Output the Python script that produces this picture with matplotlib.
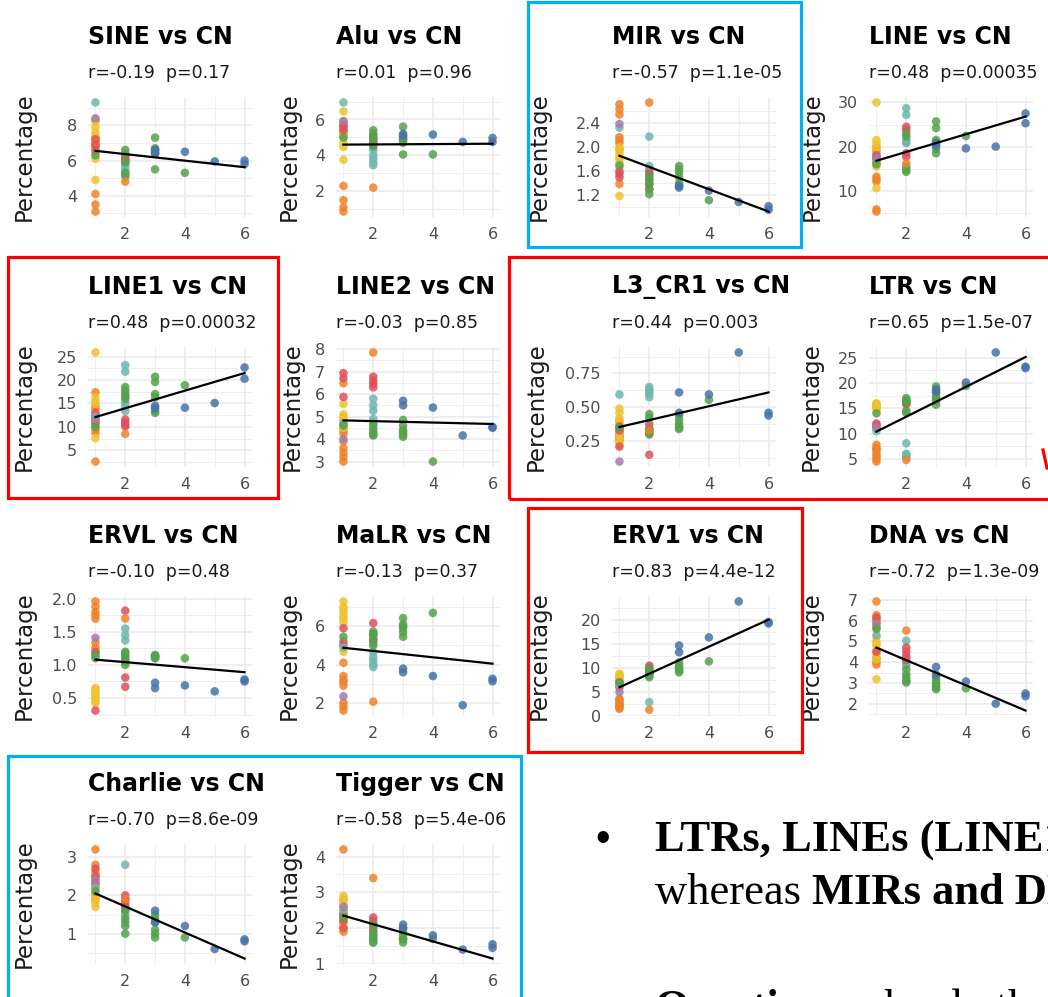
import numpy as np
import matplotlib
matplotlib.use("Agg")
import matplotlib.pyplot as plt
from matplotlib.patches import Rectangle
from matplotlib.lines import Line2D
from matplotlib.transforms import Bbox, TransformedBbox

# samples shared by every panel: copy number and colour group
cn = [1] * 22 + [2] * 15 + [3] * 8 + [4] * 2 + [5] + [6] * 2
grp = list("OOOOOOOOYYYYYYYYRRRTPG" + "TTTTTRRRRGGGGGO" + "GGGGGGBB" + "GB" + "B" + "BB")

group_colors = {"O": "#F0832A", "Y": "#EEC231", "R": "#E0505A", "T": "#6FB7B0",
                "P": "#A57CAD", "G": "#54A24B", "B": "#4673A8"}

titles = ["SINE", "Alu", "MIR", "LINE", "LINE1", "LINE2", "L3_CR1", "LTR",
          "ERVL", "MaLR", "ERV1", "DNA", "Charlie", "Tigger"]
stats = ["r=-0.19  p=0.17", "r=0.01  p=0.96", "r=-0.57  p=1.1e-05", "r=0.48  p=0.00035",
         "r=0.48  p=0.00032", "r=-0.03  p=0.85", "r=0.44  p=0.003", "r=0.65  p=1.5e-07",
         "r=-0.10  p=0.48", "r=-0.13  p=0.37", "r=0.83  p=4.4e-12", "r=-0.72  p=1.3e-09",
         "r=-0.70  p=8.6e-09", "r=-0.58  p=5.4e-06"]

sine = [8.3, 7.1, 6.8, 4.1, 3.5, 3.1, 6.9, 7.3, 8.2, 7.9, 7.6, 7.4, 6.5, 6.1, 4.9, 7.0,
        6.9, 6.6, 7.2, 9.3, 8.4, 6.3,
        5.6, 5.4, 5.8, 6.0, 5.2, 6.2, 6.3, 6.0, 6.1, 6.6, 6.4, 5.9, 5.3, 5.1, 4.8,
        7.3, 6.7, 6.6, 5.5, 6.5, 6.4, 6.6, 6.4, 5.3, 6.5, 5.95, 6.0, 5.8]
alu = [5.9, 5.5, 5.1, 2.3, 1.5, 1.1, 0.87, 5.3, 6.45, 5.8, 5.6, 5.0, 4.7, 4.47, 3.76, 5.2,
       5.7, 5.4, 5.6, 6.95, 5.9, 5.0,
       4.0, 3.8, 3.6, 3.45, 4.3, 4.9, 4.7, 4.6, 5.0, 5.4, 5.2, 4.8, 4.5, 5.1, 2.2,
       5.6, 4.85, 4.05, 4.7, 5.0, 4.9, 5.2, 5.1, 4.05, 5.16, 4.75, 4.97, 4.75]
mir = [2.72, 2.64, 2.17, 2.07, 1.97, 1.39, 2.55, 2.12, 2.0, 1.9, 1.82, 1.75, 1.67, 1.19, 1.85, 1.95,
       1.56, 1.5, 1.6, 2.33, 2.39, 1.7,
       2.18, 1.69, 1.65, 1.6, 1.55, 1.58, 1.48, 1.38, 1.31, 1.53, 1.45, 1.4, 1.3, 1.22, 2.75,
       1.69, 1.63, 1.58, 1.5, 1.4, 1.36, 1.36, 1.33, 1.12, 1.28, 1.09, 1.02, 0.96]
line = [20.0, 19.2, 13.2, 12.1, 5.8, 5.3, 18.5, 12.6, 30.0, 21.5, 20.8, 17.0, 16.2, 15.5, 10.6, 19.8,
        17.7, 18.0, 17.3, 16.5, 17.5, 16.0,
        28.7, 27.2, 21.5, 20.8, 21.0, 24.5, 23.8, 18.5, 17.7, 23.0, 22.3, 15.5, 14.8, 14.3, 16.2,
        25.7, 24.2, 21.5, 21.0, 18.5, 19.5, 20.8, 20.2, 22.4, 19.6, 20.0, 27.5, 25.3]
line1 = [17.4, 13.8, 12.0, 9.5, 8.7, 2.6, 14.5, 11.0, 25.9, 16.3, 15.5, 14.9, 12.7, 10.5, 7.6, 11.8,
         12.4, 10.8, 13.0, 12.2, 11.5, 10.0,
         23.2, 21.8, 15.2, 14.4, 13.4, 11.6, 11.0, 10.5, 10.1, 18.5, 17.8, 17.0, 16.5, 16.0, 8.5,
         20.7, 19.6, 17.0, 16.3, 13.4, 13.0, 14.5, 14.0, 18.9, 14.1, 15.1, 22.7, 20.3]
line2 = [6.48, 4.24, 3.9, 3.6, 3.4, 3.0, 4.4, 3.2, 5.56, 5.1, 4.9, 4.75, 4.6, 4.5, 4.8, 5.0,
         6.93, 6.7, 5.87, 4.7, 4.0, 4.6,
         5.79, 5.5, 5.26, 4.9, 4.73, 6.77, 6.6, 6.45, 6.3, 4.62, 4.45, 4.3, 4.2, 4.16, 7.85,
         4.85, 4.6, 4.4, 4.3, 4.2, 4.1, 5.7, 5.5, 3.0, 5.4, 4.16, 4.54, 4.5]
l3_cr1 = [0.30, 0.28, 0.32, 0.35, 0.27, 0.25, 0.40, 0.30, 0.49, 0.46, 0.42, 0.38, 0.34, 0.30, 0.26, 0.225,
          0.21, 0.33, 0.36, 0.595, 0.10, 0.35,
          0.65, 0.62, 0.60, 0.575, 0.63, 0.375, 0.34, 0.31, 0.15, 0.45, 0.42, 0.34, 0.32, 0.30, 0.33,
          0.44, 0.41, 0.38, 0.36, 0.34, 0.35, 0.61, 0.46, 0.555, 0.595, 0.905, 0.46, 0.44]
ltr = [7.8, 7.2, 6.6, 6.0, 5.5, 5.0, 4.5, 7.0, 16.0, 15.6, 15.2, 14.9, 14.7, 11.0, 15.8, 15.4,
       11.7, 11.5, 12.0, 10.5, 11.2, 14.0,
       8.1, 5.5, 5.9, 5.3, 6.0, 16.1, 16.3, 15.8, 16.0, 17.0, 16.6, 14.1, 14.5, 16.2, 4.8,
       19.3, 18.0, 17.3, 16.5, 15.7, 16.9, 18.75, 18.3, 19.4, 20.1, 26.0, 23.2, 22.9]
ervl = [1.96, 1.88, 1.80, 1.70, 1.34, 1.26, 1.18, 1.75, 0.65, 0.60, 0.55, 0.50, 0.45, 0.42, 0.62, 0.52,
        0.31, 1.20, 1.10, 1.11, 1.41, 1.15,
        1.55, 1.37, 1.09, 1.20, 1.45, 1.82, 0.81, 0.67, 1.05, 1.19, 1.15, 1.00, 1.05, 1.12, 1.70,
        1.15, 1.11, 1.13, 1.12, 1.10, 1.14, 0.73, 0.65, 1.10, 0.69, 0.60, 0.78, 0.75]
malr = [4.1, 3.4, 3.1, 2.9, 2.0, 1.8, 1.6, 3.2, 7.3, 7.0, 6.7, 6.5, 6.2, 4.67, 6.9, 6.4,
        5.9, 5.0, 5.2, 4.9, 2.34, 5.46,
        4.67, 4.4, 4.2, 4.0, 3.87, 6.17, 5.29, 5.15, 5.6, 5.73, 5.5, 5.0, 5.3, 5.6, 2.06,
        6.43, 6.1, 5.9, 5.7, 5.46, 6.0, 3.79, 3.6, 6.7, 3.4, 1.88, 3.26, 3.13]
erv1 = [3.6, 3.0, 2.6, 2.2, 1.8, 1.5, 3.3, 2.0, 8.8, 8.3, 7.9, 7.5, 7.0, 7.2, 8.0, 8.5,
        6.3, 6.0, 7.0, 6.5, 5.0, 7.0,
        2.9, 8.5, 8.8, 9.0, 8.3, 10.5, 10.0, 9.5, 9.0, 9.8, 9.2, 8.6, 8.1, 9.0, 1.3,
        11.2, 10.5, 10.0, 9.5, 9.1, 9.8, 14.7, 13.3, 11.4, 16.4, 23.9, 19.6, 19.3]
dna = [6.92, 6.26, 6.0, 3.88, 4.2, 5.9, 4.0, 6.1, 5.2, 5.0, 4.8, 4.6, 4.4, 4.13, 3.18, 4.9,
       6.15, 5.7, 4.5, 5.3, 5.85, 5.6,
       5.03, 3.84, 4.0, 4.2, 3.9, 4.7, 4.3, 4.1, 4.5, 3.64, 3.4, 3.25, 3.1, 3.02, 5.52,
       3.15, 3.0, 2.9, 2.8, 2.7, 3.3, 3.77, 3.4, 2.74, 3.07, 2.0, 2.49, 2.36]
charlie = [3.2, 2.8, 2.6, 2.4, 2.2, 2.0, 1.9, 2.5, 2.5, 2.3, 2.2, 2.1, 2.0, 1.9, 1.8, 1.7,
           2.7, 2.5, 2.3, 2.2, 2.4, 2.1,
           2.8, 1.9, 1.7, 1.6, 1.5, 2.0, 1.9, 1.8, 1.7, 1.6, 1.4, 1.3, 1.2, 1.0, 1.9,
           1.5, 1.4, 1.3, 1.1, 1.0, 0.9, 1.6, 1.3, 0.9, 1.2, 0.6, 0.85, 0.8]
tigger = [4.2, 2.6, 2.4, 2.2, 2.0, 1.9, 2.8, 2.3, 2.9, 2.8, 2.7, 2.6, 2.5, 2.3, 2.1, 2.0,
          2.4, 2.2, 2.0, 2.5, 2.6, 2.3,
          2.1, 1.9, 1.8, 1.7, 1.6, 2.3, 2.2, 2.1, 2.0, 2.1, 1.9, 1.8, 1.7, 1.6, 3.4,
          2.0, 1.9, 1.8, 1.7, 1.6, 1.7, 2.1, 2.0, 1.7, 1.8, 1.4, 1.55, 1.45]
values = [sine, alu, mir, line, line1, line2, l3_cr1, ltr, ervl, malr, erv1, dna, charlie, tigger]

# fitted line read at CN=1 and CN=6
fits = [(6.55, 5.62), (4.60, 4.65), (1.86, 0.93), (16.8, 26.8), (12.1, 21.5), (4.83, 4.67),
        (0.355, 0.61), (10.4, 25.1), (1.08, 0.89), (4.88, 4.05), (6.0, 20.1), (4.70, 1.67),
        (2.05, 0.35), (2.35, 1.15)]

yticks = [[4, 6, 8], [2, 4, 6], [1.2, 1.6, 2.0, 2.4], [10, 20, 30], [5, 10, 15, 20, 25],
          [3, 4, 5, 6, 7, 8], [0.25, 0.5, 0.75], [5, 10, 15, 20, 25], [0.5, 1.0, 1.5, 2.0],
          [2, 4, 6], [0, 5, 10, 15, 20], [2, 3, 4, 5, 6, 7], [1, 2, 3], [1, 2, 3, 4]]
ytick_labels = [["4", "6", "8"], ["2", "4", "6"], ["1.2", "1.6", "2.0", "2.4"], ["10", "20", "30"],
                ["5", "10", "15", "20", "25"], ["3", "4", "5", "6", "7", "8"],
                ["0.25", "0.50", "0.75"], ["5", "10", "15", "20", "25"],
                ["0.5", "1.0", "1.5", "2.0"], ["2", "4", "6"], ["0", "5", "10", "15", "20"],
                ["2", "3", "4", "5", "6", "7"], ["1", "2", "3"], ["1", "2", "3", "4"]]

W, H = 1048, 997
fig = plt.figure(figsize=(W / 100, H / 100), dpi=100)
fig.patch.set_facecolor("white")


def fx(px):
    return px / W


def fy(py):
    return 1 - py / H


col_left = [88, 336, 612, 869]
row_top = [97, 347, 596, 844]
# centre of the "Percentage" label, in pixels
ylabel_x = [[25, 290, 540, 813], [25, 293, 537, 812], [25, 290, 540, 812], [25, 290]]
ax_w, ax_h = 164, 120

colors = [group_colors[g] for g in grp]
x = np.array(cn, dtype=float)

for i, name in enumerate(titles):
    r, c = divmod(i, 4)
    left, top = col_left[c], row_top[r]
    ax = fig.add_axes([fx(left), fy(top + ax_h), ax_w / W, ax_h / H])
    y = np.array(values[i])
    f0, f6 = fits[i]

    ax.scatter(x, y, c=colors, s=38, alpha=0.85, linewidths=0, zorder=3)
    ax.plot([1, 6], [f0, f6], color="black", lw=1.6, zorder=4)

    lo = min(y.min(), f0, f6)
    hi = max(y.max(), f0, f6)
    pad = 0.05 * (hi - lo)
    ax.set_ylim(lo - pad, hi + pad)
    ax.set_xlim(0.75, 6.25)

    major = yticks[i]
    step = major[1] - major[0]
    minor = [m for m in np.arange(major[0] - step / 2, major[-1] + step, step)
             if lo - pad <= m <= hi + pad]
    ax.set_yticks(major)
    ax.set_yticklabels(ytick_labels[i])
    ax.set_yticks(minor, minor=True)
    ax.set_xticks([2, 4, 6])
    ax.set_xticklabels(["2", "4", "6"])
    ax.set_xticks([1, 3, 5], minor=True)

    ax.grid(which="major", color="#EBEBEB", lw=1.2)
    ax.grid(which="minor", color="#EBEBEB", lw=0.6)
    ax.set_axisbelow(True)
    for s in ax.spines.values():
        s.set_visible(False)
    ax.tick_params(which="both", length=0, labelsize=11.5, labelcolor="#4D4D4D")
    ax.tick_params(axis="y", pad=8)
    ax.tick_params(axis="x", pad=7)

    ax.set_ylabel("Percentage", fontsize=16.5, color="#1A1A1A")
    # the label anchor sits at its right edge, so shift by half the text height
    ax.yaxis.set_label_coords(fx(ylabel_x[r][c] + 11), fy(top + ax_h / 2),
                              transform=fig.transFigure)

    clip = TransformedBbox(Bbox.from_extents(0, 0, fx(left + 176), 1), fig.transFigure)
    t = fig.text(fx(left), fy(top - 60), f"{name} vs CN", fontsize=17, fontweight="bold",
                 color="black", ha="left", va="center")
    t.set_clip_box(clip)
    t.set_clip_on(True)
    fig.text(fx(left), fy(top - 24), stats[i], fontsize=12.5, color="#1A1A1A",
             ha="left", va="center")

# highlight boxes
blue = "#00B0F0"
red = "#FF0000"
boxes = [((528, 2), (801, 247), blue), ((8, 257), (278, 498), red),
         ((509, 257), (1070, 499), red), ((528, 508), (802, 752), red),
         ((8, 756), (521, 1010), blue)]
for (x0, y0), (x1, y1), col in boxes:
    fig.add_artist(Rectangle((fx(x0), fy(y1)), (x1 - x0) / W, (y1 - y0) / H,
                             transform=fig.transFigure, fill=False, edgecolor=col, lw=2.3))
fig.add_artist(Line2D([fx(1043), fx(1047)], [fy(450), fy(468)], transform=fig.transFigure,
                      color=red, lw=2.3))

# slide text at the lower right (cut by the right and bottom edges, as in the slide)
serif = "Liberation Serif"
fig.text(fx(603), fy(840), "•", fontsize=30, family="Liberation Sans", ha="center", va="center")
fig.text(fx(655), fy(840), "LTRs, LINEs (LINE1 and L3_CR1) and ERV1", fontsize=32,
         family=serif, fontweight="bold", ha="left", va="center")
t1 = fig.text(fx(655), fy(893), "whereas ", fontsize=32, family=serif, ha="left", va="center")
fig.canvas.draw()
bb = t1.get_window_extent()
fig.text(bb.x1 / fig.bbox.width, fy(893), "MIRs and DNA transposons", fontsize=32,
         family=serif, fontweight="bold", ha="left", va="center")
t2 = fig.text(fx(655), fy(1009), "Question: ", fontsize=32, family=serif,
              fontweight="bold", ha="left", va="center")
fig.canvas.draw()
bb = t2.get_window_extent()
fig.text(bb.x1 / fig.bbox.width, fy(1009), "why do the", fontsize=32, family=serif,
         ha="left", va="center")

fig.savefig("out.png", dpi=100)
plt.close(fig)
